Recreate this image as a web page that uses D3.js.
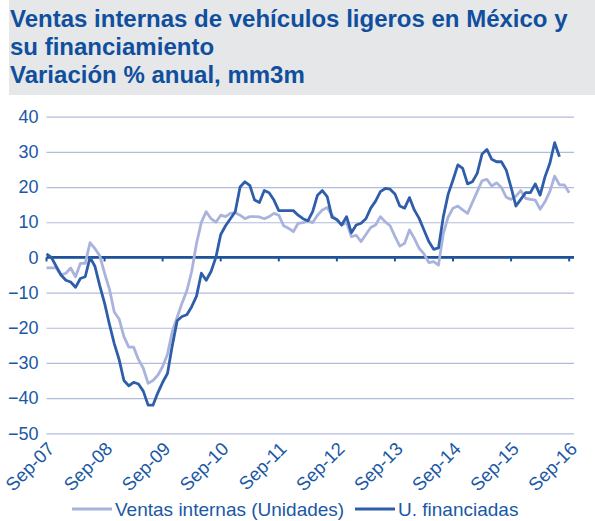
<!DOCTYPE html>
<html>
<head>
<meta charset="utf-8">
<script src="https://cdn.jsdelivr.net/npm/d3@7"></script>
<style>
  body { margin: 0; background: #fff; }
  svg { display: block; font-family: "Liberation Sans", Arial, sans-serif; }
</style>
</head>
<body>
<svg id="chart" width="595" height="521"></svg>
<script>
// months since Sep-07
var tickLabels = ["Sep-07", "Sep-08", "Sep-09", "Sep-10", "Sep-11", "Sep-12", "Sep-13", "Sep-14", "Sep-15", "Sep-16"];
var yTicks = [40, 30, 20, 10, 0, -10, -20, -30, -40, -50];
var titleLines = ["Ventas internas de vehículos ligeros en México y", "su financiamiento", "Variación % anual, mm3m"];
var seriesNames = ["Ventas internas (Unidades)", "U. financiadas"];

var ventas = [
  -3, -3, -3, -5, -4.5, -3, -5.5, -1.7, -1.7, 4.2,
  2.5, 0.5, -4.5, -9, -15.5, -17.5, -22.5, -25.5, -25.5, -29,
  -31.5, -35.8, -35, -33.5, -31, -27.5, -21, -17, -13, -9.5,
  -4, 4, 10, 13, 11, 10, 12, 11.6, 12.5, 12.7,
  12, 11, 11.6, 11.6, 11.5, 11, 11.6, 12.5, 12, 9,
  8.3, 7.3, 9.7, 9.9, 10.4, 9.9, 12, 13.5, 14.2, 12,
  10.5, 9.2, 9.9, 5.9, 6.3, 4.5, 6.5, 8.5, 9.2, 11.6,
  10.1, 9, 6, 3.2, 4, 7.8, 5.4, 2.6, 1, -1.5,
  -1.2, -2.2, 6.8, 11.5, 14, 14.6, 13.5, 12.5, 15.6, 18.7,
  21.8, 22.2, 20.3, 21.2, 19.9, 17.1, 16.5, 17.4, 19, 16.8,
  16.5, 16.3, 13.7, 15.8, 18.7, 23.1, 20.6, 20.6, 18.4
];

var financiadas = [
  1, 0, -2.5, -5, -6.5, -7, -8.5, -6, -5.5, 0,
  -2.5, -8, -13, -19, -24.5, -29, -35, -36.5, -35.5, -36,
  -38, -42, -42, -38.5, -35.5, -33, -25, -18, -16.8, -16.3,
  -14, -11, -4.5, -6.5, -4, 0, 6.5, 9, 11, 13,
  20, 21.5, 20.5, 16.3, 15.6, 19, 18.4, 16.3, 13.3, 13.3,
  13.3, 13.3, 12, 11, 10.4, 13, 17.7, 19, 17.3, 11.4,
  10.8, 9.2, 11.6, 7, 9.2, 9.7, 11, 14, 16, 18.7,
  19.6, 19.4, 18, 14.6, 14, 17, 13.5, 11.1, 7.8, 4.5,
  2.3, 2.7, 11.6, 18, 22, 26.3, 25.3, 20.9, 21.5, 23.9,
  29.4, 30.7, 27.9, 27.2, 27.2, 24.8, 19.9, 14.6, 16.5, 18.4,
  18.4, 20.9, 17.7, 22.9, 26.7, 32.6, 28.6
];

var textBlue = "#1a58a5";
var titleBlue = "#0f4f9e";
var lightColor = "#aab3dc";
var darkColor = "#2e5ea9";
var gridColor = "#b3bbdc";

var svg = d3.select("#chart");

/* title band */
svg.append("rect")
    .attr("x", 9).attr("y", 0)
    .attr("width", 586).attr("height", 95)
    .attr("fill", "#e6e7e9");

svg.selectAll(".title")
    .data(titleLines)
    .enter().append("text")
    .attr("class", "title")
    .attr("x", 10)
    .attr("y", function (d, i) { return 27 + i * 28; })
    .attr("fill", titleBlue)
    .style("font-size", "24px")
    .style("font-weight", "bold")
    .text(function (d) { return d; });

var x = d3.scaleLinear().domain([0, 109]).range([46.5, 574]);
var y = d3.scaleLinear().domain([-50, 40]).range([433.3, 116.7]);

/* grid */
svg.append("g")
    .attr("transform", "translate(46.5,0)")
    .call(d3.axisLeft(y)
        .tickValues(yTicks)
        .tickSize(-(574 - 46.5))
        .tickPadding(8)
        .tickFormat(d3.format("d")))
    .call(function (g) {
        g.select(".domain").remove();
        g.selectAll(".tick line").attr("stroke", gridColor).attr("stroke-width", 1.2);
        g.selectAll(".tick text")
            .attr("fill", textBlue)
            .style("font-size", "18px");
    });

/* zero axis with month ticks */
var monthTicks = d3.range(0, 109, 12);
svg.append("line")
    .attr("x1", 46.5).attr("x2", 574)
    .attr("y1", y(0)).attr("y2", y(0))
    .attr("stroke", "#1f5399")
    .attr("stroke-width", 2.6);

svg.selectAll(".mtick")
    .data(monthTicks)
    .enter().append("line")
    .attr("class", "mtick")
    .attr("x1", function (d) { return x(d); })
    .attr("x2", function (d) { return x(d); })
    .attr("y1", y(0))
    .attr("y2", y(0) + 4)
    .attr("stroke", "#1f5399")
    .attr("stroke-width", 2);

/* x labels */
svg.selectAll(".xlab")
    .data(monthTicks)
    .enter().append("text")
    .attr("class", "xlab")
    .attr("text-anchor", "end")
    .attr("transform", function (d) { return "translate(" + (x(d) + 9) + ",450) rotate(-45)"; })
    .attr("fill", textBlue)
    .style("font-size", "18.5px")
    .text(function (d, i) { return tickLabels[i]; });

/* lines */
var line = d3.line()
    .x(function (d, i) { return x(i); })
    .y(function (d) { return y(d); });

svg.append("path")
    .datum(ventas)
    .attr("d", line)
    .attr("fill", "none")
    .attr("stroke", lightColor)
    .attr("stroke-width", 2.8)
    .attr("stroke-linejoin", "round");

svg.append("path")
    .datum(financiadas)
    .attr("d", line)
    .attr("fill", "none")
    .attr("stroke", darkColor)
    .attr("stroke-width", 2.8)
    .attr("stroke-linejoin", "round");

/* legend */
var legend = [
    { name: seriesNames[0], color: lightColor, x: 72 },
    { name: seriesNames[1], color: darkColor, x: 355 }
];
var lg = svg.selectAll(".legend")
    .data(legend)
    .enter().append("g")
    .attr("class", "legend")
    .attr("transform", function (d) { return "translate(" + d.x + ",509)"; });

lg.append("line")
    .attr("x1", 0).attr("x2", 40)
    .attr("stroke", function (d) { return d.color; })
    .attr("stroke-width", 2.8);

lg.append("text")
    .attr("x", 43)
    .attr("y", 7)
    .attr("fill", textBlue)
    .style("font-size", "19px")
    .text(function (d) { return d.name; });
</script>
</body>
</html>
